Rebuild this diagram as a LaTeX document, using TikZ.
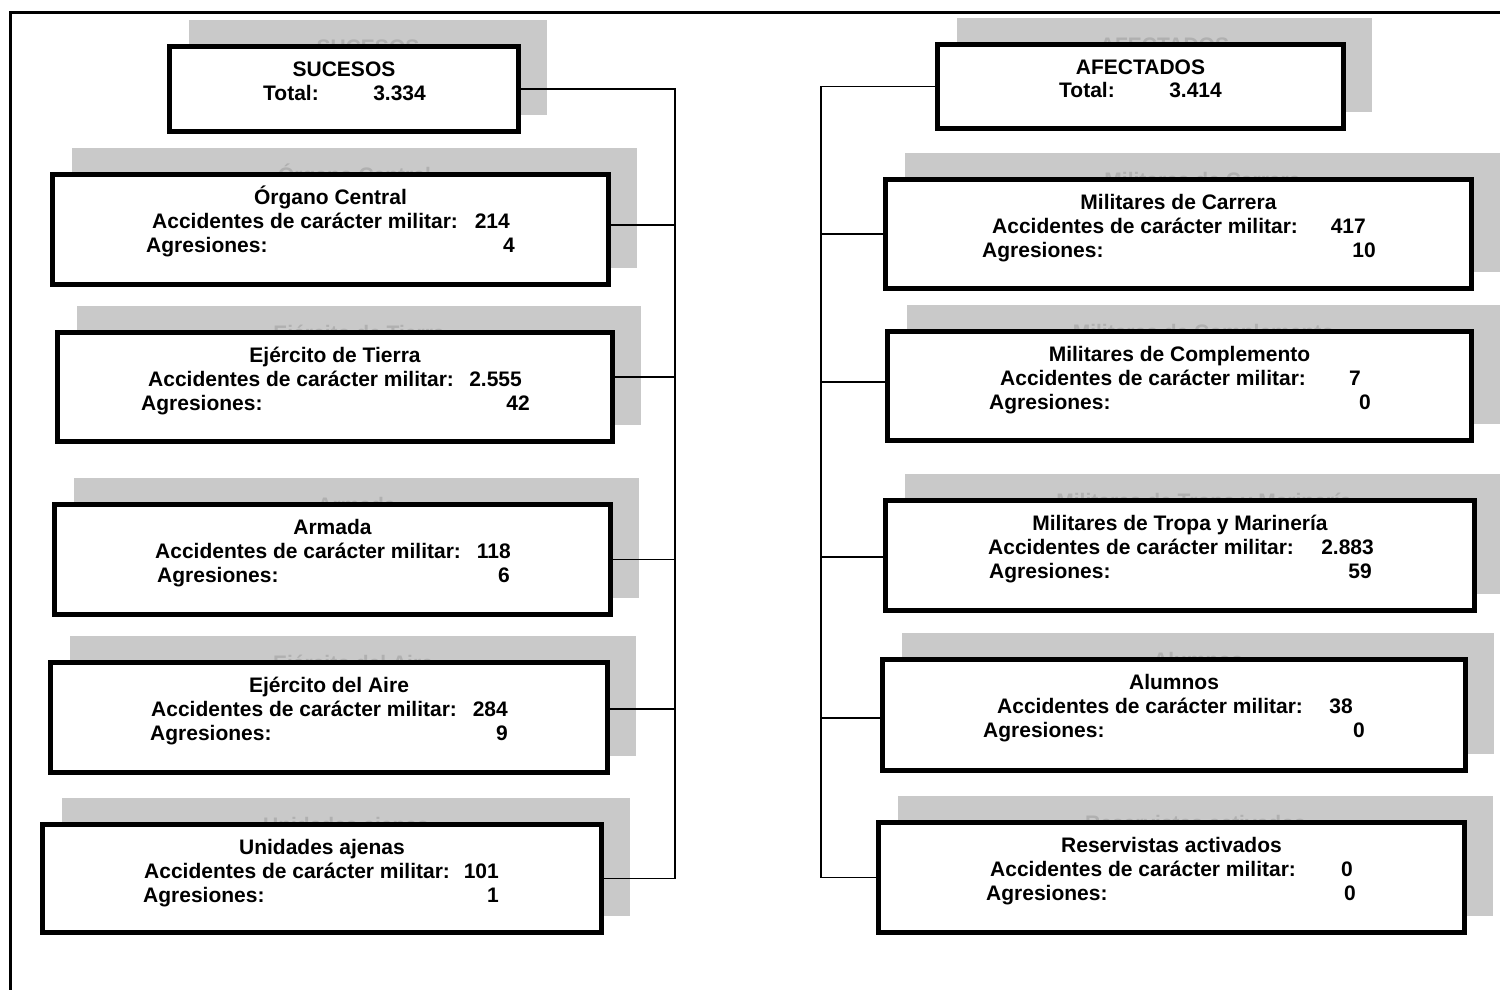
\documentclass[tikz,border=0pt]{standalone}
\usepackage{fontspec}
\setmainfont{Liberation Sans}
\usetikzlibrary{calc}
\tikzset{
  shadowbox/.style={fill=black!21},
  ghost/.style={text=black!31, font=\bfseries\fontsize{21}{24}\selectfont, anchor=base, inner sep=0pt},
  card/.style={draw, line width=5pt, fill=white, inner sep=0pt, outer sep=0pt},
  txt/.style={inner sep=0pt, font=\bfseries\fontsize{21}{24}\selectfont},
  conn/.style={line width=1.5pt},
  outerframe/.style={line width=3pt}
}
% name, x1, y1, x2, y2, title
\newcommand\cardbox[6]{%
  \fill[shadowbox] (#2+22,#3-24) rectangle (#4+26,#5-19);
  \node[ghost] (#1-g) at ({(#2+#4)/2+24},#3+10) {#6};
  \node[card, minimum width={#4-#2-5}, minimum height={#5-#3-5}] (#1) at ({(#2+#4)/2},{(#3+#5)/2}) {};
  \node[txt, anchor=base] (#1-t) at ({(#2+#4)/2},#3+32) {#6};
  \def\cardtop{#3}}
% name, y offset, label x, label, number right x, number
\newcommand\cardline[6]{%
  \node[txt, anchor=base west] (#1-l) at (#3,\cardtop+#2) {#4};
  \node[txt, anchor=base east] (#1-n) at (#5,\cardtop+#2) {#6};}
\begin{document}
\begin{tikzpicture}[x=1pt,y=-1pt]
\useasboundingbox (0,0) rectangle (1500,989);
\fill[white] (0,0) rectangle (1500,989);
% outer frame
\draw[outerframe] (10,995) -- (10,12.5) -- (1505,12.5);

% ---- left column
\cardbox{sucesos}{167}{44}{521}{134}{SUCESOS}
\cardline{sucesos-a}{56}{263}{Total:}{426}{3.334}

\cardbox{organo}{50}{172}{611}{287}{Órgano Central}
\cardline{organo-a}{56}{152}{Accidentes de carácter militar:}{510}{214}
\cardline{organo-b}{80}{146}{Agresiones:}{515}{4}

\cardbox{tierra}{55}{330}{615}{444}{Ejército de Tierra}
\cardline{tierra-a}{56}{148}{Accidentes de carácter militar:}{522}{2.555}
\cardline{tierra-b}{80}{141}{Agresiones:}{530}{42}

\cardbox{armada}{52}{502}{613}{617}{Armada}
\cardline{armada-a}{56}{155}{Accidentes de carácter militar:}{511}{118}
\cardline{armada-b}{80}{157}{Agresiones:}{510}{6}

\cardbox{aire}{48}{660}{610}{775}{Ejército del Aire}
\cardline{aire-a}{56}{151}{Accidentes de carácter militar:}{508}{284}
\cardline{aire-b}{80}{150}{Agresiones:}{508}{9}

\cardbox{unidades}{40}{822}{604}{935}{Unidades ajenas}
\cardline{unidades-a}{56}{144}{Accidentes de carácter militar:}{499}{101}
\cardline{unidades-b}{80}{143}{Agresiones:}{499}{1}

% ---- right column
\cardbox{afectados}{935}{42}{1346}{131}{AFECTADOS}
\cardline{afectados-a}{55}{1059}{Total:}{1222}{3.414}

\cardbox{carrera}{883}{177}{1474}{291}{Militares de Carrera}
\cardline{carrera-a}{56}{992}{Accidentes de carácter militar:}{1366}{417}
\cardline{carrera-b}{80}{982}{Agresiones:}{1376}{10}

\cardbox{complemento}{885}{329}{1474}{443}{Militares de Complemento}
\cardline{complemento-a}{56}{1000}{Accidentes de carácter militar:}{1361}{7}
\cardline{complemento-b}{80}{989}{Agresiones:}{1371}{0}

\cardbox{tropa}{883}{498}{1477}{613}{Militares de Tropa y Marinería}
\cardline{tropa-a}{56}{988}{Accidentes de carácter militar:}{1374}{2.883}
\cardline{tropa-b}{80}{989}{Agresiones:}{1372}{59}

\cardbox{alumnos}{880}{657}{1468}{773}{Alumnos}
\cardline{alumnos-a}{56}{997}{Accidentes de carácter militar:}{1353}{38}
\cardline{alumnos-b}{80}{983}{Agresiones:}{1365}{0}

\cardbox{reservistas}{876}{820}{1467}{935}{Reservistas activados}
\cardline{reservistas-a}{56}{990}{Accidentes de carácter militar:}{1353}{0}
\cardline{reservistas-b}{80}{986}{Agresiones:}{1356}{0}

% ---- connectors
\coordinate (lbus) at (675,0);
\coordinate (rbus) at (821,0);
\draw[conn] (sucesos.east) -- (sucesos.east -| lbus) -- (unidades.east -| lbus) -- (unidades.east);
\foreach \n/\s in {organo/4.5, tierra/10, armada/0, aire/8.5}
  \draw[conn] ([yshift=\s pt]\n.east) -- ([yshift=\s pt]\n.east -| lbus);
\draw[conn] (afectados.west) -- (afectados.west -| rbus) -- (reservistas.west -| rbus) -- (reservistas.west);
\foreach \n/\s in {carrera/0, complemento/4, tropa/-1.5, alumnos/-3}
  \draw[conn] ([yshift=\s pt]\n.west) -- ([yshift=\s pt]\n.west -| rbus);
\end{tikzpicture}
\end{document}
